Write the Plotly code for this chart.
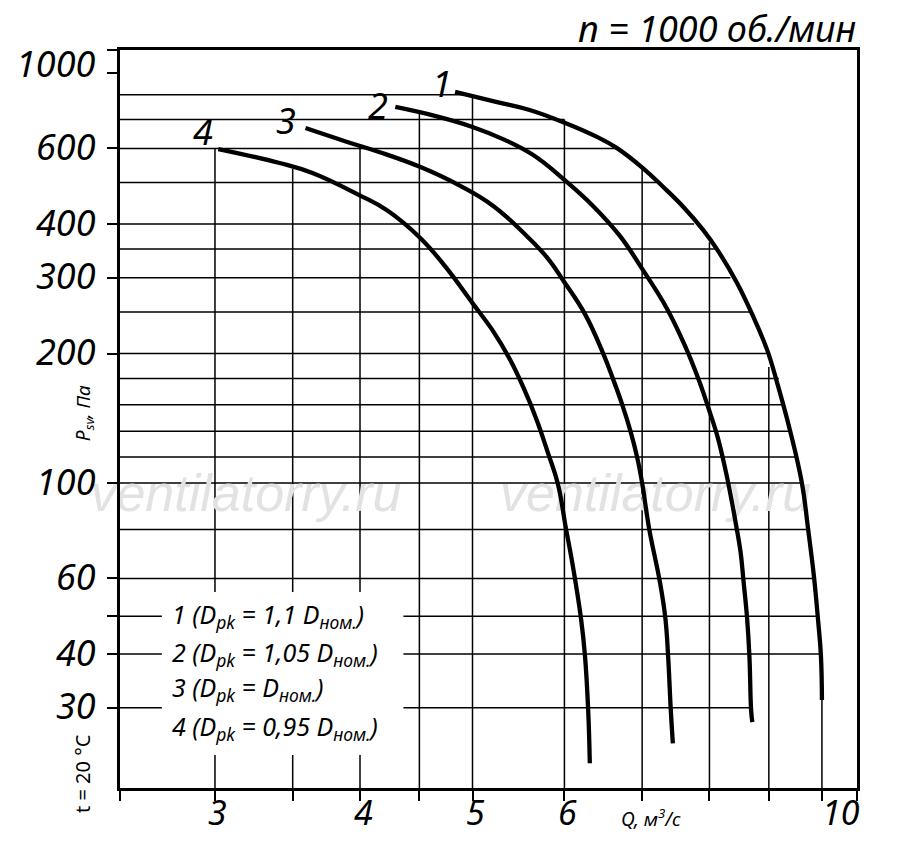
import plotly.graph_objects as go
import math

# fan curves, Q in m3/s, P in Pa
q1 = [4.83, 5.25, 5.60, 5.98, 6.40, 6.66, 7.01, 7.30, 7.60, 7.90, 8.13, 8.45, 8.73, 8.97, 9.15, 9.39, 9.61, 9.73, 9.84, 9.92, 9.98, 10.0]
p1 = [812, 769, 737, 691, 638, 601, 540, 488, 438, 388, 348, 292, 243, 204, 171, 132, 100, 78, 61, 48.5, 39.6, 31.3]

q2 = [4.29, 4.64, 5.00, 5.33, 5.64, 6.00, 6.35, 6.69, 7.01, 7.35, 7.63, 7.83, 7.98, 8.13, 8.26, 8.36, 8.44, 8.51, 8.56, 8.62, 8.66, 8.69, 8.71]
p2 = [749, 714, 673, 628, 579, 507, 441, 377, 313, 255, 207, 174, 150, 128, 107, 91, 79, 69, 59, 48.5, 39.6, 29.5, 27.8]

q3 = [3.59, 3.90, 4.16, 4.51, 4.88, 5.21, 5.57, 5.80, 6.00, 6.25, 6.48, 6.61, 6.73, 6.84, 6.93, 7.00, 7.10, 7.25, 7.33, 7.37, 7.41, 7.44]
p3 = [669, 621, 588, 543, 491, 441, 375, 334, 293, 247, 200, 174, 152, 132, 115, 100, 78, 59, 48.5, 39.6, 29.5, 24.8]

q4 = [3.02, 3.41, 3.64, 3.99, 4.22, 4.51, 4.74, 5.00, 5.20, 5.39, 5.53, 5.68, 5.81, 5.92, 6.02, 6.09, 6.20, 6.25, 6.29, 6.31]
p4 = [598, 555, 526, 468, 431, 371, 318, 262, 227, 193, 167, 140, 117, 100, 78, 66, 48.5, 39.6, 29.5, 22.3]

curve_names = ["1", "2", "3", "4"]
legend_lines = [
    "1 (D<sub>pk</sub> = 1,1 D<sub>ном.</sub>)",
    "2 (D<sub>pk</sub> = 1,05 D<sub>ном.</sub>)",
    "3 (D<sub>pk</sub> = D<sub>ном.</sub>)",
    "4 (D<sub>pk</sub> = 0,95 D<sub>ном.</sub>)",
]

x_labels = [3, 4, 5, 6, 10]
y_labels = [1000, 600, 400, 300, 200, 100, 60, 40, 30]

# grid (the hand drawn grid stops at the envelope of the curves)
h_grid = [800, 700, 600, 500, 400, 350, 300, 250, 200, 175, 152, 132, 115, 100, 78, 60, 49, 40, 30]
h_grid_end = [5.0, 6.0, 6.66, 7.2, 7.76, 8.1, 8.34, 8.68, 8.96, 9.18, 9.27, 9.39, 9.5, 9.63, 9.72, 9.82, 9.92, 10.0, 8.68]
v_grid = [3, 3.5, 4, 4.5, 5, 6, 7, 8, 9, 10]
v_grid_top = [598, 537, 610, 725, 800, 700, 540, 363, 186, 31.3]
y_ticks = [900, 600, 400, 300, 200, 100, 60, 49, 40, 30]

xr = [0.3953, 1.0302]
yr = [1.2907, 3.007]
xmin, xmax = 10 ** xr[0], 10 ** xr[1]
ymin, ymax = 10 ** yr[0], 10 ** yr[1]

FONT = "Noto Sans"

fig = go.Figure()

# watermark
fig.add_trace(go.Scatter(x=[3.19, 7.19], y=[92.3, 92.3], mode="text",
                         text=["ventilatorry.ru", "ventilatorry.ru"], cliponaxis=False,
                         textfont=dict(family="Liberation Sans", size=52, color="#e2e2e2", style="italic"),
                         hoverinfo="skip", showlegend=False))

for q, p in [(q1, p1), (q2, p2), (q3, p3), (q4, p4)]:
    fig.add_trace(go.Scatter(x=q, y=p, mode="lines", line=dict(color="black", width=4.3, shape="spline", smoothing=1.2),
                             showlegend=False, hoverinfo="skip"))

shapes = []
for v, e in zip(h_grid, h_grid_end):
    shapes.append(dict(type="line", xref="x", yref="y", x0=xmin, x1=e, y0=v, y1=v,
                       line=dict(color="black", width=1.5), layer="below"))
for v, t in zip(v_grid, v_grid_top):
    shapes.append(dict(type="line", xref="x", yref="y", x0=v, x1=v, y0=ymin, y1=t,
                       line=dict(color="black", width=1.5), layer="below"))
# white box under the legend text
shapes.append(dict(type="rect", xref="x", yref="y", x0=2.70, x1=4.36, y0=23.3, y1=55.8,
                   fillcolor="white", line=dict(width=0), layer="below"))

ann = []
for v in x_labels:
    ann.append(dict(x=math.log10(v), y=-0.0325, xref="x", yref="paper", text=str(v), showarrow=False,
                    xanchor="center", yanchor="middle", xshift=19 if v == 10 else 3,
                    font=dict(family=FONT, size=34, color="black", style="italic")))
for v in y_labels:
    ann.append(dict(x=-0.0299, y=math.log10(v), xref="paper", yref="y", text=str(v), showarrow=False,
                    xanchor="right", yanchor="middle", yshift=-10 if v == 1000 else 2,
                    font=dict(family=FONT, size=36, color="black", style="italic")))

label_pos = [(0.437, 0.954), (0.350, 0.925), (0.225, 0.904), (0.1126, 0.890)]
for name, (px, py) in zip(curve_names, label_pos):
    ann.append(dict(x=px, y=py, xref="paper", yref="paper", text=name, showarrow=False,
                    xanchor="center", yanchor="middle",
                    font=dict(family=FONT, size=36, color="black", style="italic")))

leg_y = [615, 653, 688, 727]
for txt, ly in zip(legend_lines, leg_y):
    ann.append(dict(x=(170 - 120) / 737, y=(788 - ly) / 738, xref="paper", yref="paper", text=txt,
                    showarrow=False, xanchor="left", yanchor="middle",
                    font=dict(family=FONT, size=25, color="black", style="italic")))

ann.append(dict(x=1.0014, y=1.0298, xref="paper", yref="paper", text="n = 1000 об./мин", showarrow=False,
                xanchor="right", yanchor="middle",
                font=dict(family=FONT, size=36, color="black", style="italic")))
ann.append(dict(x=-0.0488, y=0.508, xref="paper", yref="paper", text="P<sub>sv</sub>, Па", showarrow=False,
                textangle=-90, xanchor="center", yanchor="middle",
                font=dict(family=FONT, size=19, color="black", style="italic")))
ann.append(dict(x=-0.0516, y=0.0203, xref="paper", yref="paper", text="t = 20 °C", showarrow=False,
                textangle=-90, xanchor="center", yanchor="middle",
                font=dict(family=FONT, size=20, color="black")))
ann.append(dict(x=0.7205, y=-0.0407, xref="paper", yref="paper", text="Q, м<sup>3</sup>/с", showarrow=False,
                xanchor="center", yanchor="middle",
                font=dict(family=FONT, size=19, color="black", style="italic")))

fig.update_layout(
    width=900, height=843, autosize=False,
    margin=dict(l=120, r=43, t=50, b=55),
    paper_bgcolor="white", plot_bgcolor="white",
    shapes=shapes, annotations=ann, showlegend=False,
    xaxis=dict(type="log", range=xr, showgrid=False, zeroline=False, showticklabels=False,
               showline=True, linewidth=3, linecolor="black", mirror=True,
               ticks="outside", tickmode="array", tickvals=[xmin] + v_grid + [xmax],
               ticklen=10, tickwidth=1.5, tickcolor="black"),
    yaxis=dict(type="log", range=yr, showgrid=False, zeroline=False, showticklabels=False,
               showline=True, linewidth=3, linecolor="black", mirror=True,
               ticks="outside", tickmode="array", tickvals=[ymax] + y_ticks,
               ticklen=10, tickwidth=1.5, tickcolor="black"),
)

fig.write_html("out.html", config={"displayModeBar": False},
               post_script="document.body.style.margin='0px';")
